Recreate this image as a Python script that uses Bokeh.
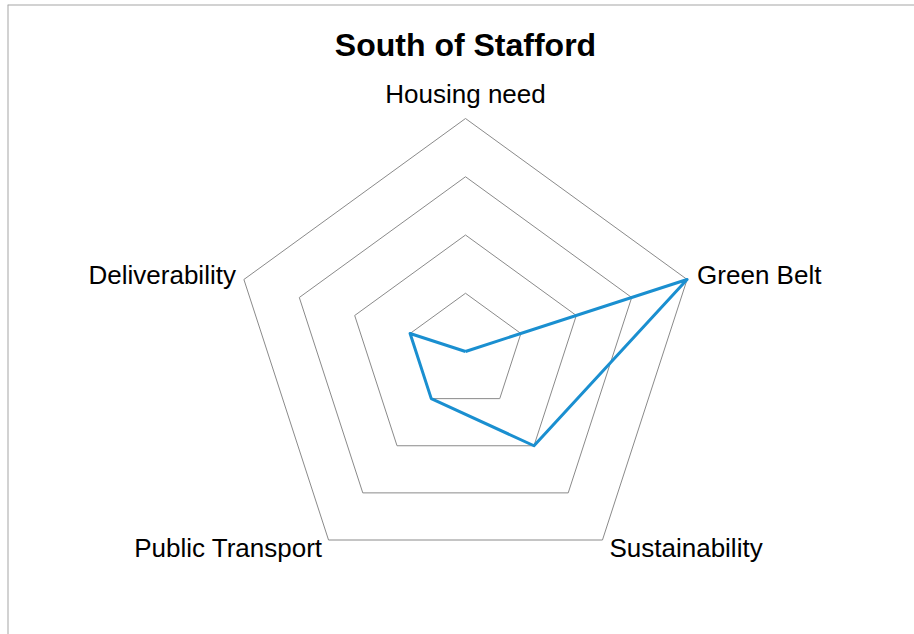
import numpy as np
from bokeh.plotting import figure
from bokeh.models import Range1d, Span, ColumnDataSource
from bokeh.core.properties import value
from bokeh.embed import file_html
from bokeh.resources import INLINE

title_text = "South of Stafford"
categories = ["Housing need", "Green Belt", "Sustainability", "Public Transport", "Deliverability"]
scores = [0, 4, 2, 1, 1]
ring_levels = [1, 2, 3, 4]

# layout constants (pixels)
W, H = 907, 630
CX, CY = 465 - 7, 351 - 4    # centre in figure pixel space
S = 58.25                    # pixels per unit

fig = figure(width=W, height=H, output_backend="svg", toolbar_location=None,
             x_range=Range1d(-CX / S, (W - CX) / S),
             y_range=Range1d(-(H - CY) / S, CY / S),
             min_border=0, margin=(4, 0, 0, 7))
fig.axis.visible = False
fig.grid.visible = False
fig.outline_line_color = None
fig.background_fill_color = "white"
fig.border_fill_color = "white"

n = len(categories)
ang = np.pi / 2 - np.arange(n) * 2 * np.pi / n

# grid rings
xs, ys = [], []
for lv in ring_levels:
    xs.append(list(lv * np.cos(ang)) + [lv * np.cos(ang[0])])
    ys.append(list(lv * np.sin(ang)) + [lv * np.sin(ang[0])])
fig.multi_line(xs, ys, line_color="#8a8a8a", line_width=1)

# data line
vals = np.array(scores, dtype=float)
dx = list(vals * np.cos(ang)) + [vals[0] * np.cos(ang[0])]
dy = list(vals * np.sin(ang)) + [vals[0] * np.sin(ang[0])]
fig.line(dx, dy, line_color="#1a8fd0", line_width=3, line_join="round")

# category labels
rmax = max(ring_levels)
lx = list(rmax * np.cos(ang))
ly = list(rmax * np.sin(ang))
aligns = ["center", "left", "left", "right", "right"]
xoffs = [0, 10, 7, -6, -8]
yoffs = [-25, -4, 8, 8, -4]
src = ColumnDataSource(dict(x=lx, y=ly, t=categories, a=aligns, xo=xoffs, yo=yoffs))
fig.text(x="x", y="y", text="t", text_align="a", x_offset="xo", y_offset="yo",
         source=src, text_baseline="middle", text_font=value("Liberation Sans"),
         text_font_size="26px", text_color="#000000")

# title
fig.text(x=[0], y=[(CY - (44 - 4)) / S], text=[title_text], text_align="center",
         text_baseline="middle", text_font=value("Liberation Sans"),
         text_font_style="bold", text_font_size="32px", text_color="#000000")

# chart border (top and left visible)
fig.add_layout(Span(location=-CX / S, dimension="height", line_color="#a6a6a6", line_width=2))
fig.add_layout(Span(location=CY / S, dimension="width", line_color="#a6a6a6", line_width=2))

open("out.html", "w").write(file_html(fig, INLINE))
